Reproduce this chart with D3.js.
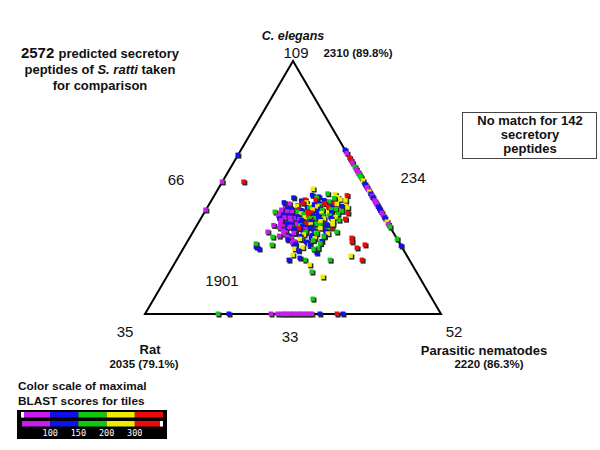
<!DOCTYPE html>
<html><head><meta charset="utf-8">
<script src="https://cdn.jsdelivr.net/npm/d3@7"></script>
<style>body{margin:0;background:#fff}svg{display:block}text{font-family:Arial,"Liberation Sans",sans-serif;fill:#111}</style>
</head><body>
<script>
// Ternary data: [C. elegans %, Parasitic nematodes %, score bin]; Rat % = 100 - C - P
const binColors = ["#c81cf0", "#1010f0", "#10c810", "#ecec00", "#ee0a0a"];
const scaleLabels = ["100", "150", "200", "300"];
const vertexNames = ["C. elegans", "Rat", "Parasitic nematodes"];
const vertexCounts = ["2310 (89.8%)", "2035 (79.1%)", "2220 (86.3%)"];
const vertexExclusive = ["109", "35", "52"];
const edgeCounts = ["66", "234", "33"];
const centerCount = "1901";
const noMatchCount = 142;
const totalPeptides = 2572;

const clusterPoints = [
 [46.9,33.1,1],[46.3,35.6,1],[47.2,40.7,3],[46.0,42.2,3],[46.8,44.9,4],
 [45.9,27.3,1],[45.1,31.6,4],[45.8,35.2,2],[44.9,38.1,1],[45.6,41.2,2],[45.2,43.5,3],
 [44.7,30.5,1],[44.0,32.6,3],[44.9,35.3,4],[43.7,37.0,1],[44.4,40.1,2],[43.6,42.1,4],[44.8,45.4,3],
 [43.5,27.1,0],[42.8,30.2,1],[43.8,31.5,4],[42.5,34.3,3],[43.2,35.6,1],[42.9,37.6,2],[43.6,39.0,4],[42.4,41.6,1],[43.4,43.2,3],[42.7,46.4,3],
 [42.3,26.3,0],[41.6,27.4,1],[42.6,30.1,3],[41.3,31.5,4],[42.0,33.8,1],[41.7,34.8,2],[42.4,37.1,3],[41.4,38.6,1],[42.2,40.9,4],[41.2,42.3,2],[42.5,45.3,1],
 [41.1,25.6,0],[40.4,27.9,0],[41.4,29.0,1],[40.1,31.7,2],[40.8,32.7,1],[40.5,35.0,4],[41.2,36.1,3],[40.2,38.5,1],[41.0,39.5,2],[40.0,42.1,3],[41.3,43.9,2],[40.6,46.2,2],
 [39.9,26.1,0],[39.2,27.2,1],[40.2,29.6,0],[38.9,30.6,1],[39.6,33.0,3],[39.3,34.0,2],[40.0,36.4,4],[39.0,37.4,1],[39.8,39.8,3],[38.8,40.7,2],[40.1,43.0,1],[39.4,45.5,2],
 [38.7,25.8,0],[38.0,28.2,0],[39.0,29.2,1],[37.7,31.6,0],[38.4,32.6,1],[38.1,35.0,3],[38.8,35.9,4],[37.8,38.3,2],[38.6,39.3,1],[37.6,41.7,3],[38.9,43.0,2],[38.2,45.4,3],
 [37.6,26.7,1],[36.9,27.7,0],[37.9,30.1,0],[36.6,31.1,1],[37.3,33.5,0],[37.0,34.5,1],[37.7,36.9,2],[36.7,37.9,4],[37.5,40.3,1],[36.5,41.3,3],[37.8,44.0,1],[37.1,47.0,2],
 [36.4,27.7,0],[35.7,30.1,1],[36.7,31.1,0],[35.4,33.4,0],[36.1,34.4,1],[35.8,36.8,4],[36.5,37.8,1],[35.5,40.2,2],[36.3,41.2,3],[35.3,43.9,1],[36.6,45.2,3],
 [35.2,28.2,0],[34.5,29.3,0],[35.5,31.7,1],[34.2,32.6,0],[34.9,35.0,2],[34.6,36.0,1],[35.3,38.4,3],[34.3,39.4,1],[35.1,41.8,2],[34.1,43.1,1],[35.4,45.8,3],
 [34.0,28.5,0],[33.3,30.9,1],[34.3,31.9,0],[33.0,34.3,1],[33.7,35.3,4],[33.4,37.7,0],[34.1,38.7,1],[33.1,41.0,2],[33.9,42.4,3],[32.9,45.1,2],
 [32.8,30.4,0],[32.1,31.5,0],[33.1,33.8,1],[31.8,34.8,0],[32.5,37.2,1],[32.2,38.2,2],[32.9,40.6,1],[31.9,41.9,3],[32.7,44.7,1],[31.7,46.0,3],
 [31.6,31.1,0],[30.9,33.4,1],[31.9,34.4,0],[30.6,37.2,1],[31.3,38.1,3],[31.0,40.9,1],[31.7,42.2,2],[30.7,45.3,1],
 [30.4,32.9,0],[29.7,34.4,0],[30.7,37.1,1],[29.4,38.4,2],[30.1,41.1,1],[29.8,42.5,3],[30.5,45.2,2],
 [29.3,33.6,1],[28.6,36.3,0],[29.6,37.6,3],[28.3,40.7,1],[29.0,42.4,2],[28.7,45.4,1],
 [28.1,35.8,0],[27.4,37.2,1],[28.4,40.3,1],[27.1,42.0,3],[27.8,45.4,2],
 [26.9,37.1,1],[26.2,40.2,3],[27.2,42.2,1],[25.9,45.6,2],
 [25.7,37.7,3],[25.0,39.4,1],[25.6,44.2,2],
 [44.0,25.0,1],[47.5,38.0,2],[35.0,26.0,0],[30.8,30.0,0],[42.0,47.5,3],[37.5,49.0,4]
];
const outlierPoints = [
 [49.4,32.1,3],[52.2,7.3,4],[26.5,24.3,1],[25.7,25.7,1],[27.7,23.7,2],[32.4,25.3,0],[30.4,28.0,2],
 [40.3,23.8,2],[27.3,29.3,2],[30.0,54.9,4],[28.5,55.7,4],[26.1,58.6,4],[27.3,60.7,4],[22.9,58.1,3],
 [21.3,62.7,4],[21.3,51.9,2],[16.6,48.1,2],[14.6,52.8,3],[21.3,43.4,2],[22.1,41.3,1],[21.3,38.0,1],
 [23.3,38.3,3],[24.1,46.0,1],[19.4,46.0,3],[5.9,53.8,2],[39.9,48.6,4],[34.0,46.2,4],[32.4,48.6,2]
];
const rightEdgePoints = [
 [64.8,35.2,1],[63.5,36.5,0],[61.7,38.3,4],[60.6,39.4,4],[59.7,40.3,0],[58.1,41.9,2],[57.2,42.8,0],
 [56.1,43.9,0],[55.3,44.7,0],[54.5,45.5,2],[53.8,46.2,2],[52.6,47.4,3],[51.4,48.6,1],[50.6,49.4,1],
 [50.0,50.0,0],[49.0,51.0,0],[48.2,51.8,3],[47.4,52.6,1],[46.6,53.4,0],[45.9,54.1,1],[44.7,55.3,0],
 [43.9,56.1,0],[43.1,56.9,0],[42.3,57.7,1],[41.5,58.5,1],[40.7,59.3,1],[39.9,60.1,0],[38.7,61.3,0],
 [37.9,62.1,1],[36.4,63.6,3],[35.4,64.6,0],[34.4,65.6,2],[29.6,70.4,2],[26.9,73.1,1]
];
const leftEdgePoints = [[62.8,0,1],[52.2,0,0],[41.1,0,0]];
const bottomEdgePoints = [
 [0,24.7,2],[0,28.4,1],[0,42.6,0],[0,44.9,0],[0,46.3,0],[0,47.3,0],[0,48.3,0],[0,49.3,0],[0,50.3,0],
 [0,51.4,0],[0,52.4,0],[0,53.4,0],[0,54.4,0],[0,55.4,0],[0,56.4,0],[0,59.1,1],[0,64.9,4],[0,66.9,1]
];

const W = 600, H = 450;
const svg = d3.select("body").append("svg").attr("width", W).attr("height", H);

// ternary projection built from linear scales
const xBase = d3.scaleLinear().domain([0, 100]).range([145, 441]);
const yC = d3.scaleLinear().domain([0, 100]).range([314, 61]);
function proj(c, p) { return [xBase(p + c / 2), yC(c)]; }

// triangle
const verts = [proj(100, 0), proj(0, 0), proj(0, 100)];
svg.append("path").attr("d", d3.line()(verts) + "Z")
  .attr("fill", "none").attr("stroke", "#000").attr("stroke-width", 2).attr("stroke-linejoin", "miter");

// points
const allPts = [].concat(bottomEdgePoints, leftEdgePoints, rightEdgePoints, outlierPoints, clusterPoints);
const g = svg.append("g");
const s = 5;
allPts.forEach(d => {
  const [x, y] = proj(d[0], d[1]);
  g.append("rect").attr("x", x - s / 2 + 1).attr("y", y - s / 2 + 1).attr("width", s).attr("height", s).attr("fill", "#2a2a2a");
  g.append("rect").attr("x", x - s / 2).attr("y", y - s / 2).attr("width", s - 0.5).attr("height", s - 0.5).attr("fill", binColors[d[2]]);
});

function txt(x, y, str, size, weight, anchor, style) {
  return svg.append("text").attr("x", x).attr("y", y).attr("font-size", size)
    .attr("font-weight", weight || "normal").attr("text-anchor", anchor || "middle")
    .attr("font-style", style || "normal").text(str);
}

// top-left note
const t1 = svg.append("text").attr("x", 100).attr("y", 58).attr("text-anchor", "middle").attr("font-weight", "bold");
t1.append("tspan").attr("font-size", 15).text(totalPeptides + " ");
t1.append("tspan").attr("font-size", 13).text("predicted secretory");
const t2 = svg.append("text").attr("x", 100).attr("y", 74).attr("text-anchor", "middle").attr("font-weight", "bold").attr("font-size", 13);
t2.append("tspan").text("peptides of ");
t2.append("tspan").attr("font-style", "italic").text("S. ratti");
t2.append("tspan").text(" taken");
txt(100, 90, "for comparison", 13, "bold");

// vertex labels
txt(293, 40, vertexNames[0], 12.5, "bold", "middle", "italic");
txt(296, 58, vertexExclusive[0], 15);
txt(358, 57, vertexCounts[0], 11.5, "bold");
txt(125, 337, vertexExclusive[1], 15);
txt(150, 354, vertexNames[1], 13, "bold");
txt(144, 368, vertexCounts[1], 11.5, "bold");
txt(454, 337, vertexExclusive[2], 15);
txt(484, 355, vertexNames[2], 13, "bold");
txt(489, 368, vertexCounts[2], 11.5, "bold");

// edge / center counts
txt(176, 185, edgeCounts[0], 15);
txt(413, 183, edgeCounts[1], 15);
txt(290, 342, edgeCounts[2], 15);
txt(222, 286, centerCount, 15);

// no-match box
svg.append("rect").attr("x", 462.5).attr("y", 112.5).attr("width", 134).attr("height", 46)
  .attr("fill", "#fff").attr("stroke", "#444").attr("stroke-width", 1);
txt(530, 125, "No match for " + noMatchCount, 13, "bold");
txt(530, 139, "secretory", 13, "bold");
txt(530, 153, "peptides", 13, "bold");

// color scale
txt(18, 390, "Color scale of maximal", 11.8, "bold", "start");
txt(18, 405, "BLAST scores for tiles", 11.8, "bold", "start");
svg.append("rect").attr("x", 17).attr("y", 410).attr("width", 150).attr("height", 29).attr("fill", "#000");
const segX = d3.scaleLinear().domain([0, 5]).range([22, 163]);
binColors.forEach((c, i) => {
  svg.append("rect").attr("x", segX(i)).attr("y", 412).attr("width", segX(i + 1) - segX(i)).attr("height", 5.5).attr("fill", c);
  svg.append("rect").attr("x", segX(i)).attr("y", 421).attr("width", segX(i + 1) - segX(i)).attr("height", 5.5).attr("fill", c);
});
svg.append("rect").attr("x", 21).attr("y", 412).attr("width", 3).attr("height", 5.5).attr("fill", "#fff");
svg.append("rect").attr("x", 160).attr("y", 421).attr("width", 3).attr("height", 5.5).attr("fill", "#fff");
scaleLabels.forEach((l, i) => {
  svg.append("text").attr("x", segX(i + 1)).attr("y", 436).attr("text-anchor", "middle")
    .attr("font-size", 8.5).style("font-family", "'DejaVu Sans Mono', monospace").style("fill", "#fff").text(l);
});
</script>
</body></html>
